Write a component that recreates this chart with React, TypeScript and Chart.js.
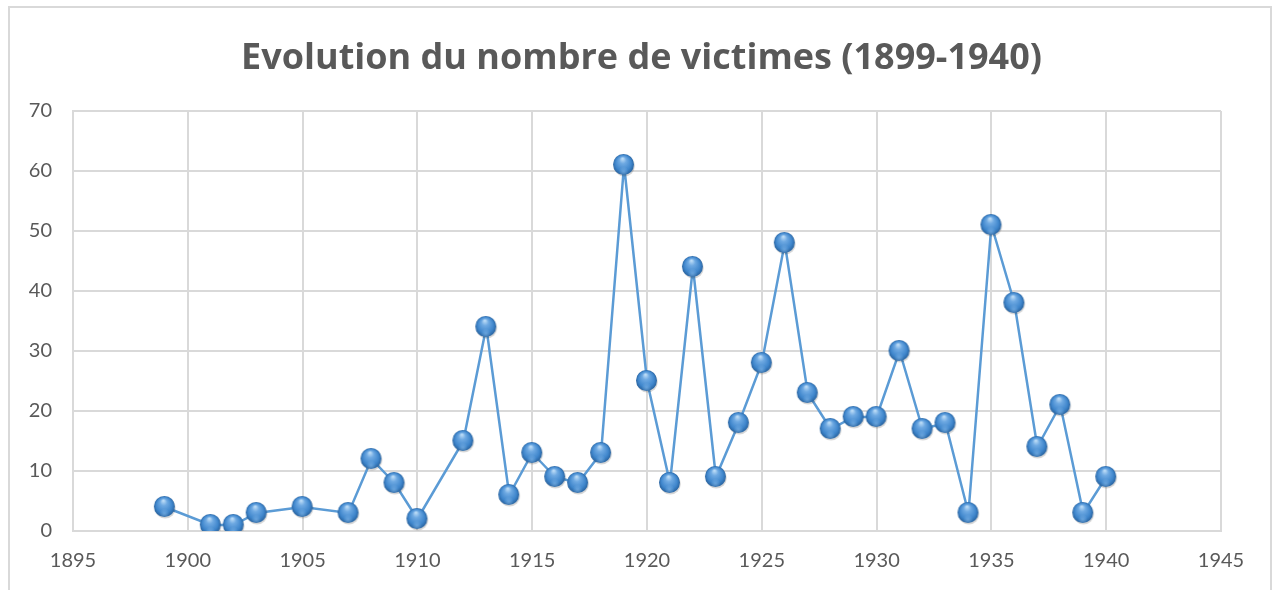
import React, { useEffect, useRef } from "react";
import { Chart, registerables } from "chart.js";

Chart.register(...registerables);

const TITLE = "Evolution du nombre de victimes (1899-1940)";
const years = [1899, 1901, 1902, 1903, 1905, 1907, 1908, 1909, 1910, 1912, 1913, 1914, 1915, 1916, 1917, 1918, 1919, 1920, 1921, 1922, 1923, 1924, 1925, 1926, 1927, 1928, 1929, 1930, 1931, 1932, 1933, 1934, 1935, 1936, 1937, 1938, 1939, 1940];
const victims = [4, 1, 1, 3, 4, 3, 12, 8, 2, 15, 34, 6, 13, 9, 8, 13, 61, 25, 8, 44, 9, 18, 28, 48, 23, 17, 19, 19, 30, 17, 18, 3, 51, 38, 14, 21, 3, 9];
const xMin = 1895;
const xMax = 1945;
const xStep = 5;
const yMin = 0;
const yMax = 70;
const yStep = 10;

function makeSphere(): HTMLCanvasElement {
  const s = 26;
  const c = document.createElement("canvas");
  c.width = s;
  c.height = s;
  const ctx = c.getContext("2d")!;
  const cx = 12.5, cy = 12.5, r = 10.5;
  ctx.save();
  ctx.fillStyle = "rgba(0,0,0,0.16)";
  ctx.beginPath();
  ctx.arc(cx + 0.8, cy + 1.5, r, 0, Math.PI * 2);
  ctx.fill();
  ctx.restore();
  const g = ctx.createRadialGradient(cx - 1, cy - 6, 0.5, cx, cy, r);
  g.addColorStop(0, "#bcdcf7");
  g.addColorStop(0.3, "#6ea9e2");
  g.addColorStop(0.75, "#3f86cc");
  g.addColorStop(1, "#2a64a0");
  ctx.fillStyle = g;
  ctx.beginPath();
  ctx.arc(cx, cy, r, 0, Math.PI * 2);
  ctx.fill();
  const g2 = ctx.createRadialGradient(cx, cy + 7, 0.5, cx, cy + 7, 5);
  g2.addColorStop(0, "rgba(140,190,235,0.5)");
  g2.addColorStop(1, "rgba(140,190,235,0)");
  ctx.fillStyle = g2;
  ctx.beginPath();
  ctx.arc(cx, cy, r, 0, Math.PI * 2);
  ctx.fill();
  return c;
}

const titlePlugin = {
  id: "centeredTitle",
  afterDraw(chart: any) {
    const ctx = chart.ctx;
    ctx.save();
    ctx.font = "bold 36px 'Open Sans'";
    ctx.fillStyle = "#595959";
    ctx.textAlign = "center";
    ctx.textBaseline = "alphabetic";
    ctx.fillText(TITLE, chart.width / 2 + 1.5, 61);
    ctx.restore();
  },
};

export default function App() {
  const ref = useRef<HTMLCanvasElement>(null);
  useEffect(() => {
    if (!ref.current) return;
    const sphere = makeSphere();
    const chart = new Chart(ref.current, {
      type: "scatter",
      data: {
        datasets: [
          {
            data: years.map((x, i) => ({ x, y: victims[i] })),
            showLine: true,
            borderColor: "#5b9bd5",
            borderWidth: 2.5,
            pointStyle: sphere as any,
            pointRadius: 10,
            backgroundColor: "#5b9bd5",
          },
        ],
      },
      plugins: [titlePlugin],
      options: {
        animation: false,
        responsive: false,
        layout: { padding: { left: 0, right: 49, top: 103, bottom: 0 } },
        plugins: {
          legend: { display: false },
          tooltip: { enabled: false },
          title: { display: false },
        },
        scales: {
          x: {
            type: "linear",
            min: xMin,
            max: xMax,
            ticks: {
              stepSize: xStep,
              color: "#595959",
              font: { family: "Lato", size: 20 },
              padding: 18,
              callback: (v: any) => String(v),
              maxRotation: 0,
            },
            grid: { color: "#d9d9d9", lineWidth: 2, drawTicks: false },
            border: { color: "#d9d9d9", width: 2 },
            afterFit: (s: any) => { s.height = 59; },
          },
          y: {
            min: yMin,
            max: yMax,
            ticks: {
              stepSize: yStep,
              color: "#595959",
              font: { family: "Lato", size: 20 },
              padding: 21,
            },
            grid: { color: "#d9d9d9", lineWidth: 2, drawTicks: false },
            border: { color: "#d9d9d9", width: 2 },
            afterFit: (s: any) => { s.width = 63; },
          },
        },
      },
    });
    return () => chart.destroy();
  }, []);
  return (
    <div
      style={{
        position: "absolute",
        left: 8,
        top: 6,
        width: 1264,
        height: 620,
        border: "2px solid #d9d9d9",
        boxSizing: "border-box",
        background: "#fff",
      }}
    >
      <canvas ref={ref} width={1260} height={582} style={{ display: "block" }} />
    </div>
  );
}
